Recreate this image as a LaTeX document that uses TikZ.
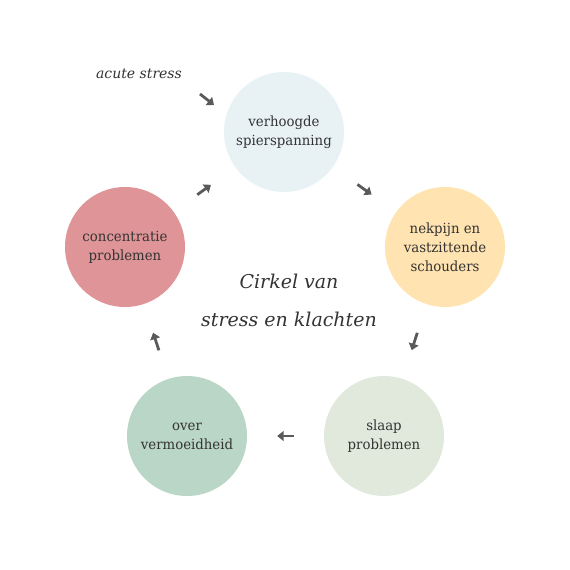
\documentclass[tikz,border=0pt]{standalone}
\usepackage{fontspec}
\setmainfont{DejaVu Serif}
\newfontfamily\slab[FakeStretch=0.95]{DejaVu Serif}
\usepackage{tikz}
\usetikzlibrary{arrows.meta,positioning}
\definecolor{tekst}{HTML}{333333}
\definecolor{pijl}{HTML}{5A5A5A}
\definecolor{blauw}{HTML}{E8F2F5}
\definecolor{oranje}{HTML}{FFE3B0}
\definecolor{lichtgroen}{HTML}{E0E9DB}
\definecolor{groen}{HTML}{BAD6C7}
\definecolor{rood}{HTML}{DF9497}

\begin{document}
\begin{tikzpicture}[x=1pt,y=-1pt,
		klacht/.style={circle,minimum size=120pt,inner sep=0pt,text=tekst,align=center,font=\slab\fontsize{14}{19}\selectfont},
		flow/.style={draw=pijl,line width=2.8pt,-{Triangle[length=6.5pt,width=10pt]},shorten <=30pt,shorten >=30pt},
		hand/.style={text=tekst,align=center,font=\itshape}]
				\useasboundingbox (0,0) rectangle (570,570);
				\node[klacht,fill=blauw] (spier) at (284,132) {verhoogde\\spierspanning};
				\node[klacht,fill=oranje] (nek) at (445,247) {nekpijn en\\vastzittende\\schouders};
				\node[klacht,fill=lichtgroen] (slaap) at (384,436) {slaap\\problemen};
				\node[klacht,fill=groen] (moe) at (187,436) {over\\vermoeidheid};
				\node[klacht,fill=rood] (conc) at (125,247) {concentratie\\problemen};
				\node[hand,font=\itshape\fontsize{14}{20}\selectfont] (acute) at (139,74) {acute stress};
				\node[hand,font=\itshape\fontsize{19}{38}\selectfont] (titel) at (289,300) {Cirkel van\\stress en klachten};
				% pijlen tussen de cirkels
				\coordinate (acutevan) at (200,94);
				\coordinate (acutenaar) at (214,105);
				\draw[flow,shorten <=0pt,shorten >=0pt] (acutevan) -- (acutenaar);
				\draw[flow] (spier) -- (nek);
				\draw[flow] (nek) -- (slaap);
				\draw[flow] (slaap) -- (moe);
				\draw[flow] (moe) -- (conc);
				\draw[flow,shorten <=29pt,shorten >=30pt] (conc) -- (spier);
	\end{tikzpicture}
\end{document}
